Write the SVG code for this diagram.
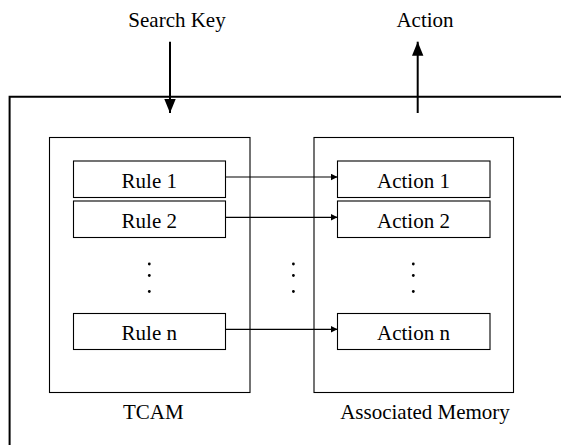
<svg xmlns="http://www.w3.org/2000/svg" width="561" height="445" viewBox="0 0 561 445">
<style>
  text { font-size: 21px; fill: #000; text-anchor: middle; }
  .box { fill: #fff; stroke: #000; stroke-width: 1.1; }
  .frame { fill: none; stroke: #000; stroke-width: 2; }
  .conn { fill: none; stroke: #000; stroke-width: 1.2; }
  .io { fill: none; stroke: #000; stroke-width: 2; }
  .dot { fill: #000; }
</style>
<defs>
  <marker id="small" markerUnits="userSpaceOnUse" markerWidth="8" markerHeight="8" viewBox="0 0 8 8" refX="7" refY="3.5" orient="auto">
    <path d="M0,0 L7,3.5 L0,7 Z" fill="#000"/>
  </marker>
  <marker id="big" markerUnits="userSpaceOnUse" markerWidth="15" markerHeight="12" viewBox="0 0 15 12" refX="14" refY="6" orient="auto">
    <path d="M0,0.3 L14,6 L0,11.7 Z" fill="#000"/>
  </marker>
</defs>

<g font-family="Liberation Serif, DejaVu Serif, serif">
<g id="frame">
  <path class="frame" d="M9.6,445 V96.7 H561"/>
</g>

<g id="labels">
  <text x="177" y="27">Search Key</text>
  <text x="425" y="27">Action</text>
</g>

<g id="tcam">
  <rect class="box" x="49.5" y="137.5" width="200.5" height="255"/>
  <text x="153.3" y="418.7">TCAM</text>
</g>

<g id="associated-memory">
  <rect class="box" x="314" y="137.5" width="199.5" height="255"/>
  <text x="425" y="418.7">Associated Memory</text>
</g>

<g id="rule1">
  <rect class="box" x="73.5" y="161" width="152" height="36.5"/>
  <text x="149.3" y="187.5">Rule 1</text>
</g>
<g id="rule2">
  <rect class="box" x="73.5" y="201" width="152" height="36.5"/>
  <text x="149.3" y="227.5">Rule 2</text>
</g>
<g id="rulen">
  <rect class="box" x="73.5" y="313.5" width="152" height="36"/>
  <text x="149.3" y="339.5">Rule n</text>
</g>

<g id="action1">
  <rect class="box" x="337.5" y="161" width="152.5" height="36.5"/>
  <text x="413.5" y="187.5">Action 1</text>
</g>
<g id="action2">
  <rect class="box" x="337.5" y="201" width="152.5" height="36.5"/>
  <text x="413.5" y="227.5">Action 2</text>
</g>
<g id="actionn">
  <rect class="box" x="337.5" y="313.5" width="152.5" height="36"/>
  <text x="413.5" y="339.5">Action n</text>
</g>

<g id="ellipses">
  <circle class="dot" cx="149.3" cy="264" r="1.4"/>
  <circle class="dot" cx="149.3" cy="275.5" r="1.4"/>
  <circle class="dot" cx="149.3" cy="291.5" r="1.4"/>
  <circle class="dot" cx="293.4" cy="264" r="1.4"/>
  <circle class="dot" cx="293.4" cy="275.5" r="1.4"/>
  <circle class="dot" cx="293.4" cy="291.5" r="1.4"/>
  <circle class="dot" cx="413.3" cy="264" r="1.4"/>
  <circle class="dot" cx="413.3" cy="275.5" r="1.4"/>
  <circle class="dot" cx="413.3" cy="291.5" r="1.4"/>
</g>

<g id="connectors">
  <line class="io" x1="170" y1="41.7" x2="170" y2="113" marker-end="url(#big)"/>
  <line class="io" x1="417.7" y1="113" x2="417.7" y2="41.7" marker-end="url(#big)"/>
  <line class="conn" x1="225.5" y1="177" x2="337.5" y2="177" marker-end="url(#small)"/>
  <line class="conn" x1="225.5" y1="217.3" x2="337.5" y2="217.3" marker-end="url(#small)"/>
  <line class="conn" x1="225.5" y1="329.3" x2="337.5" y2="329.3" marker-end="url(#small)"/>
</g>
</g>
</svg>
